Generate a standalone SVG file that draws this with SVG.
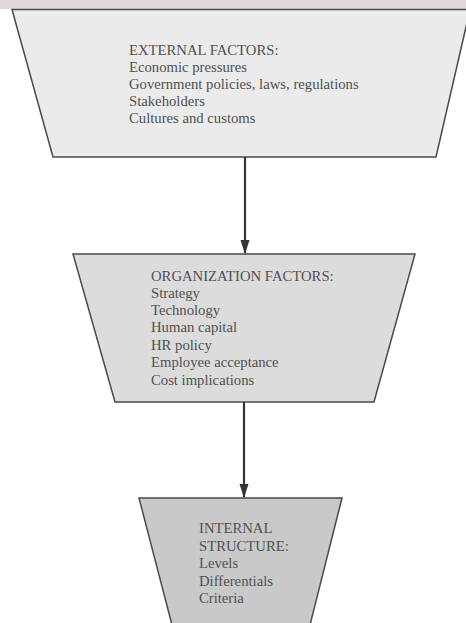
<svg xmlns="http://www.w3.org/2000/svg" width="466" height="623" viewBox="0 0 466 623">
<defs>
<marker id="ah" markerWidth="14" markerHeight="10" refX="13" refY="4.5" orient="auto" markerUnits="userSpaceOnUse">
<path d="M0,0 L14,4.5 L0,9 Z" fill="#333"/>
</marker>
<style>
.box{stroke:#4a4a4a;stroke-width:1.5;}
.t{font-family:"Liberation Serif","Times New Roman",serif;font-size:14.7px;fill:#505050;}
.conn{stroke:#333;stroke-width:2.2;fill:none;}
</style>
</defs>
<rect x="0" y="0" width="466" height="623" fill="#ffffff"/>
<rect x="0" y="0" width="466" height="9" fill="#dfdbdb"/>
<g id="external">
<polygon class="box" points="12,9.5 470,9.5 436,157 53,157" fill="#ebebeb"/>
<text class="t" x="129" y="55">EXTERNAL FACTORS:</text>
<text class="t" x="129" y="72">Economic pressures</text>
<text class="t" x="129" y="89">Government policies, laws, regulations</text>
<text class="t" x="129" y="106">Stakeholders</text>
<text class="t" x="129" y="123">Cultures and customs</text>
</g>
<g id="organization">
<polygon class="box" points="73,254 415,254 374,402 115,402" fill="#dcdcdc"/>
<text class="t" x="151" y="281">ORGANIZATION FACTORS:</text>
<text class="t" x="151" y="298">Strategy</text>
<text class="t" x="151" y="315">Technology</text>
<text class="t" x="151" y="332">Human capital</text>
<text class="t" x="151" y="350">HR policy</text>
<text class="t" x="151" y="367">Employee acceptance</text>
<text class="t" x="151" y="385">Cost implications</text>
</g>
<g id="internal">
<polygon class="box" points="139,498 342,498 310,625 172,625" fill="#c9c9c9"/>
<text class="t" x="199" y="533">INTERNAL</text>
<text class="t" x="199" y="551">STRUCTURE:</text>
<text class="t" x="199" y="568">Levels</text>
<text class="t" x="199" y="586">Differentials</text>
<text class="t" x="199" y="603">Criteria</text>
</g>
<g id="connectors">
<line class="conn" x1="245" y1="157" x2="245" y2="253" marker-end="url(#ah)"/>
<line class="conn" x1="244" y1="402" x2="244" y2="497" marker-end="url(#ah)"/>
</g>
</svg>
